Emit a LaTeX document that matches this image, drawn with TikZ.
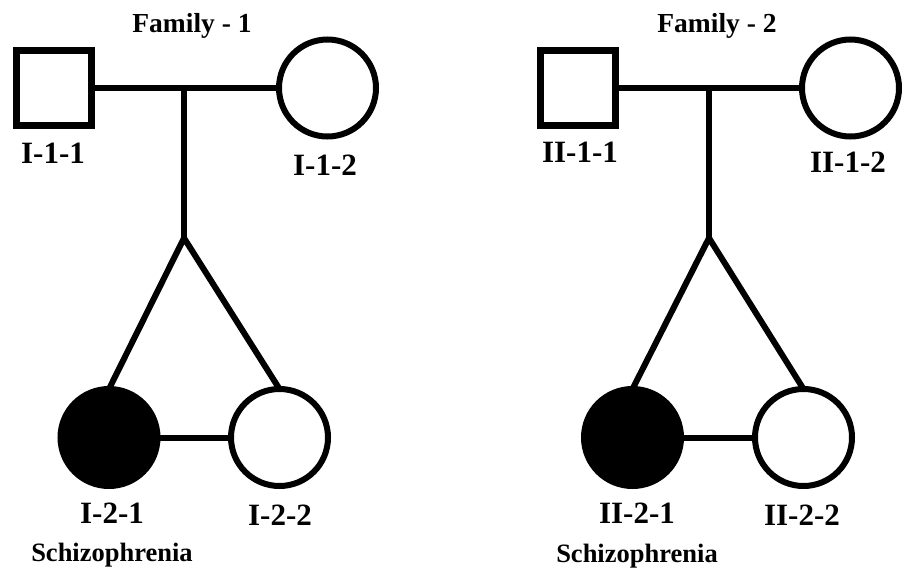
\documentclass[tikz,border=0pt]{standalone}
\usepackage{fontspec}
\setmainfont{Liberation Serif}
\begin{document}
\begin{tikzpicture}[x=1pt,y=-1pt,
  every node/.style={inner sep=0pt, outer sep=0pt},
  male/.style={draw, line width=6.5pt, rectangle, minimum size=75pt, fill=white},
  female/.style={draw, line width=6pt, circle, minimum size=97pt, fill=white},
  affected/.style={draw, line width=6pt, circle, minimum size=97pt, fill=black},
  link/.style={line width=6pt},
  idlabel/.style={anchor=base, font=\fontsize{31}{36}\selectfont\bfseries},
  famlabel/.style={anchor=base, font=\fontsize{27.5}{32}\selectfont\bfseries},
  diaglabel/.style={anchor=base, font=\fontsize{26.5}{30}\selectfont\bfseries}]
\useasboundingbox (0,0) rectangle (903,571);

% ---------- Family 1 ----------
\node[male]     (f1a) at (54,88) {};
\node[female]   (f1b) at (327.5,88) {};
\node[affected] (f1c) at (109,437.5) {};
\node[female]   (f1d) at (279.5,437.5) {};
\coordinate (f1m) at (184,88);
\coordinate (f1t) at (184,238);
\draw[link] (f1a.east) -- (f1b.west);
\draw[link] (f1m) -- (f1t);
\draw[link, line join=miter] (f1c.north) -- (f1t) -- (f1d.north);
\draw[link] (f1c.east) -- (f1d.west);

\node[famlabel]  (t1)  at (192,32)  {Family - 1};
\node[idlabel]   (l1a) at (53,163)  {I-1-1};
\node[idlabel]   (l1b) at (325,175) {I-1-2};
\node[idlabel]   (l1c) at (112,523) {I-2-1};
\node[idlabel]   (l1d) at (280,525) {I-2-2};
\node[diaglabel] (d1)  at (112,561) {Schizophrenia};

% ---------- Family 2 ----------
\node[male]     (f2a) at (578,88) {};
\node[female]   (f2b) at (850.5,88) {};
\node[affected] (f2c) at (632.5,437.5) {};
\node[female]   (f2d) at (803.5,437.5) {};
\coordinate (f2m) at (709,88);
\coordinate (f2t) at (709,238);
\draw[link] (f2a.east) -- (f2b.west);
\draw[link] (f2m) -- (f2t);
\draw[link, line join=miter] (f2c.north) -- (f2t) -- (f2d.north);
\draw[link] (f2c.east) -- (f2d.west);

\node[famlabel]  (t2)  at (717,32)  {Family - 2};
\node[idlabel]   (l2a) at (580,162) {II-1-1};
\node[idlabel]   (l2b) at (848,172) {II-1-2};
\node[idlabel]   (l2c) at (637,523) {II-2-1};
\node[idlabel]   (l2d) at (802,525) {II-2-2};
\node[diaglabel] (d2)  at (637,562) {Schizophrenia};
\end{tikzpicture}
\end{document}
